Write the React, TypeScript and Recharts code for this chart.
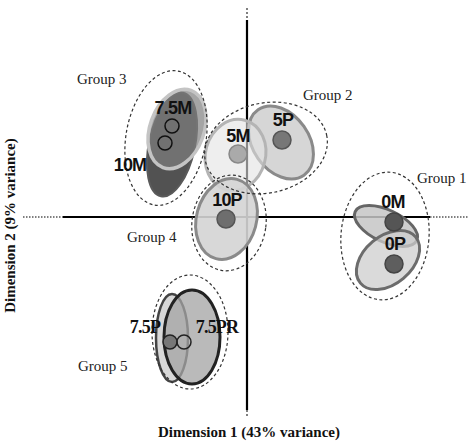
import React from 'react';
import { ScatterChart, Scatter, XAxis, YAxis, ReferenceLine } from 'recharts';

// chart frame (score units, origin where the two dimensions cross)
const W = 469;
const H = 448;
const X_DOMAIN: [number, number] = [-2.47, 2.22];
const Y_DOMAIN: [number, number] = [-2.31, 2.17];
const PX = W / (X_DOMAIN[1] - X_DOMAIN[0]);

// treatments, in drawing order
const treatments = ['10M', '7.5M', '5P', '5M', '10P', '0M', '0P', '7.5P', '7.5PR'];

// treatment ellipses
const ellX = [-0.75, -0.70, 0.34, -0.115, -0.205, 1.39, 1.41, -0.75, -0.55];
const ellY = [0.725, 0.88, 0.745, 0.62, -0.02, -0.09, -0.43, -1.21, -1.20];
const ellRx = [0.23, 0.27, 0.28, 0.30, 0.30, 0.34, 0.36, 0.16, 0.28];
const ellRy = [0.53, 0.41, 0.40, 0.36, 0.41, 0.16, 0.24, 0.44, 0.47];
const ellAngle = [12, 20, -35, 15, 15, 25, -40, 0, 0];

// centroids
const dotX = [-0.82, -0.75, 0.35, -0.09, -0.21, 1.47, 1.47, -0.77, -0.63];
const dotY = [0.74, 0.91, 0.77, 0.63, -0.02, -0.05, -0.47, -1.25, -1.25];

// treatment label positions
const labX = [-1.17, -0.74, 0.36, -0.09, -0.20, 1.46, 1.48, -1.02, -0.30];
const labY = [0.52, 1.09, 0.97, 0.81, 0.17, 0.15, -0.27, -1.10, -1.10];

// groups
const groups = ['Group 1', 'Group 2', 'Group 3', 'Group 4', 'Group 5'];
const grpX = [1.38, 0.19, -0.81, -0.18, -0.57];
const grpY = [-0.19, 0.69, 0.79, -0.06, -1.15];
const grpRx = [0.44, 0.62, 0.40, 0.37, 0.38];
const grpRy = [0.64, 0.45, 0.68, 0.48, 0.57];
const grpAngle = [5, -12, 10, 8, 0];
const grpLabX = [1.70, 0.56, -1.70, -1.20, -1.69];
const grpLabY = [0.39, 1.22, 1.38, -0.20, -1.49];

const ellStyle: Record<string, any> = {
  '10M': { fill: '#525252', fillOpacity: 1, stroke: '#5a5a5a', strokeWidth: 2 },
  '7.5M': { fill: '#7f7f7f', fillOpacity: 0.7, stroke: '#c4c4c4', strokeWidth: 3.5 },
  '5P': { fill: '#d6d6d6', fillOpacity: 1, stroke: '#8a8a8a', strokeWidth: 3 },
  '5M': { fill: '#e2e2e2', fillOpacity: 0.6, stroke: '#b4b4b4', strokeWidth: 3 },
  '10P': { fill: '#d4d4d4', fillOpacity: 0.9, stroke: '#8a8a8a', strokeWidth: 3 },
  '0M': { fill: '#c6c6c6', fillOpacity: 0.85, stroke: '#666', strokeWidth: 3 },
  '0P': { fill: '#cdcdcd', fillOpacity: 0.75, stroke: '#6c6c6c', strokeWidth: 3 },
  '7.5P': { fill: '#d8d8d8', fillOpacity: 1, stroke: '#444', strokeWidth: 2.5 },
  '7.5PR': { fill: '#a3a3a3', fillOpacity: 0.75, stroke: '#222', strokeWidth: 3 },
};

const dotStyle: Record<string, any> = {
  '10M': { r: 7, fill: 'none', stroke: '#111', strokeWidth: 1.5 },
  '7.5M': { r: 7, fill: 'none', stroke: '#111', strokeWidth: 1.5 },
  '5P': { r: 9, fill: '#777', stroke: '#555', strokeWidth: 1.5 },
  '5M': { r: 9, fill: '#aaa', stroke: '#888', strokeWidth: 1.5 },
  '10P': { r: 9, fill: '#6e6e6e', stroke: '#555', strokeWidth: 1.5 },
  '0M': { r: 9, fill: '#555', stroke: '#444', strokeWidth: 1.5 },
  '0P': { r: 9, fill: '#5e5e5e', stroke: '#444', strokeWidth: 1.5 },
  '7.5P': { r: 7, fill: '#777', stroke: '#222', strokeWidth: 1.5 },
  '7.5PR': { r: 7, fill: 'none', stroke: '#222', strokeWidth: 1.5 },
};

const serifLabels = ['7.5P', '7.5PR'];

const ellipseData = treatments.map((name, i) => ({
  name, x: ellX[i], y: ellY[i], rx: ellRx[i], ry: ellRy[i], angle: ellAngle[i],
}));
const dotData = treatments.map((name, i) => ({ name, x: dotX[i], y: dotY[i] }));
const labelData = treatments.map((name, i) => ({ name, x: labX[i], y: labY[i] }));
const groupData = groups.map((name, i) => ({
  name, x: grpX[i], y: grpY[i], rx: grpRx[i], ry: grpRy[i], angle: grpAngle[i],
}));
const groupLabelData = groups.map((name, i) => ({ name, x: grpLabX[i], y: grpLabY[i] }));

const EllipseShape = (props: any) => {
  const { cx, cy, payload } = props;
  const s = ellStyle[payload.name];
  return (
    <ellipse
      cx={cx}
      cy={cy}
      rx={payload.rx * PX}
      ry={payload.ry * PX}
      transform={`rotate(${payload.angle} ${cx} ${cy})`}
      {...s}
    />
  );
};

const GroupShape = (props: any) => {
  const { cx, cy, payload } = props;
  return (
    <ellipse
      cx={cx}
      cy={cy}
      rx={payload.rx * PX}
      ry={payload.ry * PX}
      transform={`rotate(${payload.angle} ${cx} ${cy})`}
      fill="none"
      stroke="#333"
      strokeWidth={1.2}
      strokeDasharray="3 2.5"
    />
  );
};

const DotShape = (props: any) => {
  const { cx, cy, payload } = props;
  return <circle cx={cx} cy={cy} {...dotStyle[payload.name]} />;
};

const LabelShape = (props: any) => {
  const { cx, cy, payload } = props;
  const serif = serifLabels.includes(payload.name);
  return (
    <text
      x={cx}
      y={cy}
      dy="0.36em"
      textAnchor="middle"
      fill="#111"
      fontFamily={serif ? '"Liberation Serif", serif' : '"Liberation Sans", Arial, sans-serif'}
      fontWeight="bold"
      fontSize={18}
      letterSpacing={-0.8}
    >
      {payload.name}
    </text>
  );
};

const GroupLabelShape = (props: any) => {
  const { cx, cy, payload } = props;
  return (
    <text
      x={cx}
      y={cy}
      dy="0.35em"
      textAnchor="start"
      fill="#222"
      fontFamily='"Liberation Serif", serif'
      fontSize={15}
    >
      {payload.name}
    </text>
  );
};

export default function App() {
  return (
    <div style={{ position: 'absolute', left: 0, top: 0, width: W, height: H, background: '#fff' }}>
      <ScatterChart width={W} height={H} margin={{ top: 0, right: 0, bottom: 0, left: 0 }}>
        <XAxis type="number" dataKey="x" domain={X_DOMAIN} allowDataOverflow hide />
        <YAxis type="number" dataKey="y" domain={Y_DOMAIN} allowDataOverflow hide />
        <Scatter data={ellipseData} shape={EllipseShape} isAnimationActive={false} />
        <Scatter data={groupData} shape={GroupShape} isAnimationActive={false} />
        <ReferenceLine segment={[{ x: 0, y: 1.97 }, { x: 0, y: -1.93 }]} stroke="#000" strokeWidth={2.2} />
        <ReferenceLine segment={[{ x: 0, y: 2.09 }, { x: 0, y: 1.97 }]} stroke="#555" strokeWidth={1.5} strokeDasharray="2 2" />
        <ReferenceLine segment={[{ x: 0, y: -1.93 }, { x: 0, y: -2.01 }]} stroke="#555" strokeWidth={1.5} strokeDasharray="2 2" />
        <ReferenceLine segment={[{ x: -1.84, y: 0 }, { x: 1.83, y: 0 }]} stroke="#000" strokeWidth={2.2} />
        <ReferenceLine segment={[{ x: -2.24, y: 0 }, { x: -1.84, y: 0 }]} stroke="#555" strokeWidth={1.3} strokeDasharray="1.5 1.5" />
        <ReferenceLine segment={[{ x: 1.83, y: 0 }, { x: 2.22, y: 0 }]} stroke="#555" strokeWidth={1.3} strokeDasharray="1.5 1.5" />
        <Scatter data={dotData} shape={DotShape} isAnimationActive={false} />
        <Scatter data={labelData} shape={LabelShape} isAnimationActive={false} />
        <Scatter data={groupLabelData} shape={GroupLabelShape} isAnimationActive={false} />
      </ScatterChart>
      <div
        style={{
          position: 'absolute', left: 0, width: 498, top: 424, textAlign: 'center',
          fontFamily: '"Liberation Serif", serif', fontWeight: 'bold', fontSize: 15, color: '#111',
        }}
      >
        Dimension 1 (43% variance)
      </div>
      <div
        style={{
          position: 'absolute', left: 10, top: 226, width: 0, height: 0,
        }}
      >
        <div
          style={{
            position: 'absolute', left: -120, top: -9, width: 240, textAlign: 'center',
            transform: 'rotate(-90deg)', whiteSpace: 'nowrap',
            fontFamily: '"Liberation Serif", serif', fontWeight: 'bold', fontSize: 15, color: '#111',
          }}
        >
          Dimension 2 (9% variance)
        </div>
      </div>
    </div>
  );
}
